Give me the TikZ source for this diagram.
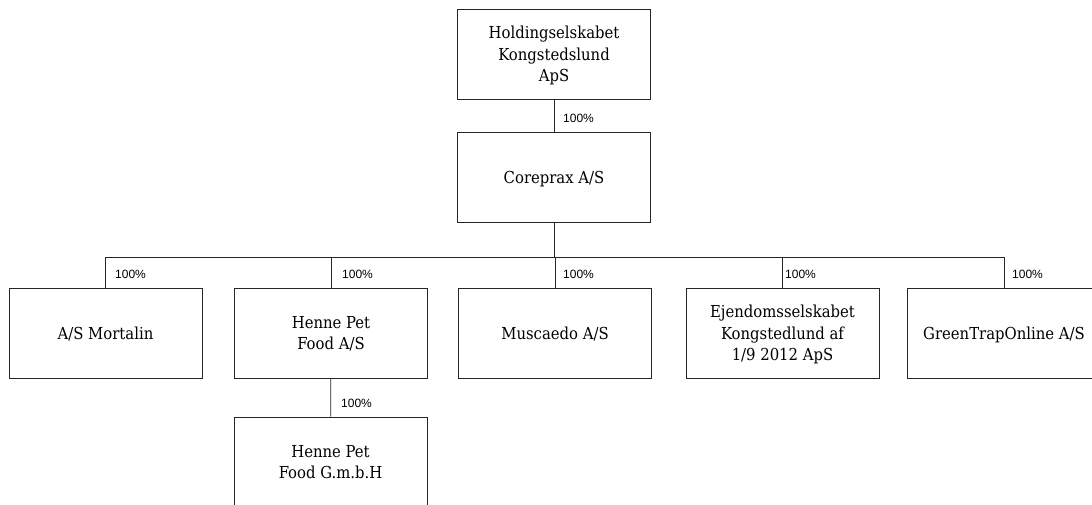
\documentclass[tikz,border=0pt]{standalone}
\usepackage{fontspec}
\newfontfamily\boxfont{DejaVu Serif Condensed}
\newfontfamily\pctfont{Liberation Sans}
\begin{document}
\begin{tikzpicture}[x=1pt,y=-1pt,
  entity/.style={draw=black!85, line width=0.8pt, minimum width=193pt, minimum height=90pt,
    align=center, font=\boxfont\fontsize{16.5}{21.5}\selectfont, inner sep=0pt,
    text depth=-7pt},
  pct/.style={anchor=west, inner sep=0pt, font=\pctfont\fontsize{12}{14}\selectfont},
  link/.style={draw=black!85, line width=0.8pt}]
\useasboundingbox (0,0) rectangle (1092,504);
\begin{scope}
\clip (0,0) rectangle (1092,504);
\node[entity] (hold) at (554,54) {Holdingselskabet\\Kongstedslund\\ApS};
\node[entity] (core) at (554,177.5) {Coreprax A/S};
\node[entity] (mort) at (105.5,333) {A/S Mortalin};
\node[entity] (henne) at (331,333) {Henne Pet\\Food A/S};
\node[entity] (musc) at (555,333) {Muscaedo A/S};
\node[entity] (ejen) at (782.5,333) {Ejendomsselskabet\\Kongstedlund af\\1/9 2012 ApS};
\node[entity] (green) at (1004,333) {GreenTrapOnline A/S};
\node[entity] (gmbh) at (330.5,462) {Henne Pet\\Food G.m.b.H};
\coordinate (bus) at (554,257);
\draw[link] (hold) -- (core);
\draw[link] (core.south) -- (core.south |- bus);
\foreach \c in {mort,henne,musc,ejen,green}{
  \draw[link] (\c.north) -- (\c.north |- bus) -- (core.south |- bus);
}
\draw[link] (henne) -- (gmbh);
\node[pct] (p0) at (563,118) {100\%};
\node[pct] (p1) at (115,274) {100\%};
\node[pct] (p2) at (342,274) {100\%};
\node[pct] (p3) at (563,274) {100\%};
\node[pct] (p4) at (785,274) {100\%};
\node[pct] (p5) at (1012,274) {100\%};
\node[pct] (p6) at (341,403) {100\%};
\end{scope}
\end{tikzpicture}
\end{document}
